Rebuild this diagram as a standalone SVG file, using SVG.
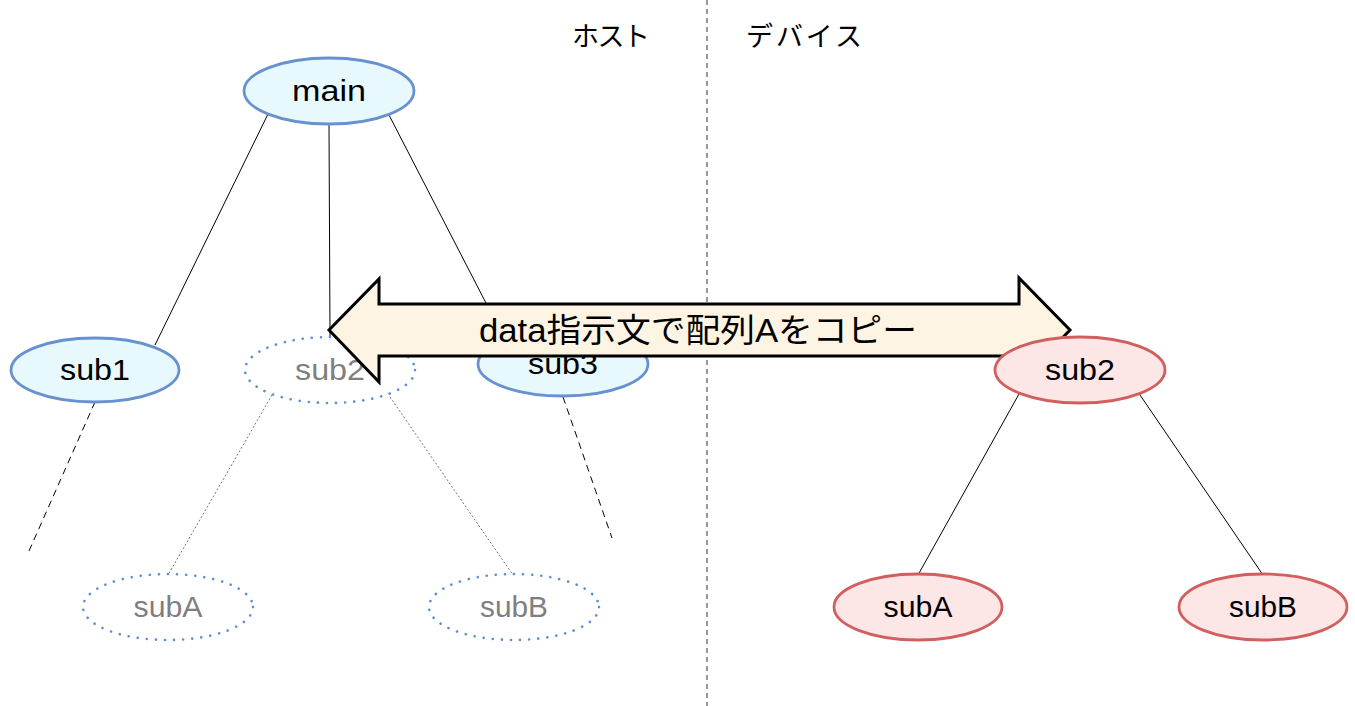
<svg xmlns="http://www.w3.org/2000/svg" width="1355" height="706" viewBox="0 0 1355 706">
  <style>
    .host { fill: #e7f9fd; stroke: #6792cf; stroke-width: 2.8; }
    .dev { fill: #fde6e6; stroke: #d15f5f; stroke-width: 2.8; }
    .ghost { fill: none; stroke: #5b8fd6; stroke-width: 2.6; stroke-dasharray: 0.1 9; stroke-linecap: round; }
    .lbl { font-family: "Liberation Sans", "Noto Sans", sans-serif; font-size: 29px; fill: #000; text-anchor: middle; }
    .lbl.dim { fill: #7f7f7f; }
    .jp { font-family: "Noto Sans CJK JP", sans-serif; font-size: 27px; fill: #000; }
    .edge { stroke: #000; stroke-width: 1; fill: none; }
    .edge.dash { stroke-dasharray: 7 5; }
    .edge.dot { stroke: #777; stroke-dasharray: 2 2; }
  </style>

  <!-- host / device divider -->
  <line x1="707" y1="0" x2="707" y2="706" stroke="#777" stroke-width="1.5" stroke-dasharray="5 4"/>
  <text class="jp" x="572" y="46" textLength="78" lengthAdjust="spacing">ホスト</text>
  <text class="jp" x="746" y="46" textLength="116" lengthAdjust="spacing">デバイス</text>

  <!-- call-tree edges -->
  <g id="connectors">
    <line class="edge" x1="268" y1="114" x2="155" y2="345"/>
    <line class="edge" x1="329" y1="124" x2="330" y2="336"/>
    <line class="edge" x1="389" y1="115" x2="487" y2="305"/>
    <line class="edge dash" x1="95" y1="402" x2="29" y2="551"/>
    <line class="edge dash" x1="563" y1="397" x2="612" y2="538"/>
    <line class="edge dot" x1="272" y1="395" x2="168" y2="575"/>
    <line class="edge dot" x1="390" y1="397" x2="513" y2="575"/>
    <line class="edge" x1="1019" y1="394" x2="918" y2="575"/>
    <line class="edge" x1="1140" y1="395" x2="1263" y2="575"/>
  </g>

  <!-- host side -->
  <g id="main">
    <ellipse class="host" cx="329" cy="91" rx="85" ry="33"/>
    <text class="lbl" x="329" y="101" textLength="74" lengthAdjust="spacingAndGlyphs">main</text>
  </g>
  <g id="sub1">
    <ellipse class="host" cx="95" cy="370" rx="84" ry="32"/>
    <text class="lbl" x="95" y="380" textLength="70" lengthAdjust="spacingAndGlyphs">sub1</text>
  </g>
  <g id="sub2-host">
    <ellipse class="ghost" cx="330" cy="370" rx="85" ry="33"/>
    <text class="lbl dim" x="330" y="380" textLength="70" lengthAdjust="spacingAndGlyphs">sub2</text>
  </g>
  <g id="sub3">
    <ellipse class="host" cx="563" cy="364" rx="85" ry="32"/>
    <text class="lbl" x="563" y="374" textLength="70" lengthAdjust="spacingAndGlyphs">sub3</text>
  </g>
  <g id="subA-host">
    <ellipse class="ghost" cx="168" cy="607" rx="85" ry="33"/>
    <text class="lbl dim" x="168" y="617" textLength="69" lengthAdjust="spacingAndGlyphs">subA</text>
  </g>
  <g id="subB-host">
    <ellipse class="ghost" cx="514" cy="607" rx="85" ry="33"/>
    <text class="lbl dim" x="514" y="617" textLength="68" lengthAdjust="spacingAndGlyphs">subB</text>
  </g>

  <!-- data transfer arrow -->
  <g id="copy-arrow">
    <path d="M329,330 L379,279 L379,304 L1019,304 L1019,278 L1070,330 L1019,382 L1019,356 L379,356 L379,382 Z"
          fill="#fdf4e4" stroke="#000" stroke-width="3" stroke-linejoin="miter"/>
    <text x="698" y="342" font-family="'Liberation Sans', 'Noto Sans CJK JP', sans-serif" font-size="33" text-anchor="middle" textLength="438" lengthAdjust="spacingAndGlyphs">data指示文で配列Aをコピー</text>
  </g>

  <!-- device side -->
  <g id="sub2-dev">
    <ellipse class="dev" cx="1080" cy="370" rx="85" ry="33"/>
    <text class="lbl" x="1080" y="380" textLength="70" lengthAdjust="spacingAndGlyphs">sub2</text>
  </g>
  <g id="subA-dev">
    <ellipse class="dev" cx="918" cy="607" rx="84" ry="33"/>
    <text class="lbl" x="918" y="617" textLength="69" lengthAdjust="spacingAndGlyphs">subA</text>
  </g>
  <g id="subB-dev">
    <ellipse class="dev" cx="1263" cy="607" rx="84" ry="33"/>
    <text class="lbl" x="1263" y="617" textLength="68" lengthAdjust="spacingAndGlyphs">subB</text>
  </g>
</svg>
